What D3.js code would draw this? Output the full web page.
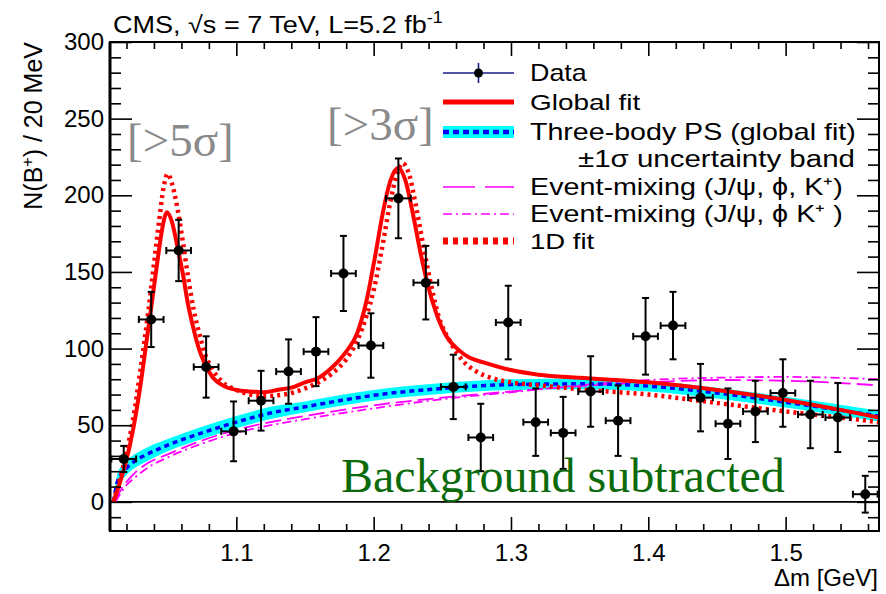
<!DOCTYPE html>
<html><head><meta charset="utf-8">
<script src="https://cdn.jsdelivr.net/npm/d3@7"></script>
<style>body{margin:0;background:#fff;} svg{display:block;}</style>
</head><body>
<svg id="c" width="886" height="594"></svg>
<script>
// ---------------- data ----------------
const binCenters = [1.018,1.038,1.058,1.078,1.098,1.118,1.138,1.158,1.178,1.198,1.218,1.238,1.258,1.278,
                    1.298,1.318,1.338,1.358,1.378,1.398,1.418,1.438,1.458,1.478,1.498,1.518,1.538,1.558];
const counts = [28,119,164,88,46,66,85,98,149,102,198,143,75,42,117,52,45,72,53,108,115,68,51,59,71,57,55,5];
const countErrors = [8.5,18,20,20,19.5,19.5,21,22.5,24.5,21,26,24,21,22,24,22,23.5,23,23,25,22,22,23,20,22,22,22.5,12];
const binHalfWidth = 0.009;

const globalFitX = [1.0105,1.015,1.019,1.025,1.030,1.036,1.040,1.043,1.046,1.0495,1.053,1.057,1.061,1.065,1.068,1.072,1.077,1.083,1.090,1.100,1.110,1.120,1.130,1.140,1.150,1.160,1.170,1.180,1.188,1.195,1.201,1.207,1.212,1.218,1.223,1.229,1.234,1.239,1.246,1.253,1.262,1.270,1.280,1.300,1.320,1.350,1.400,1.450,1.500,1.540,1.568];
const globalFitY = [0,12,24,48,75,114,140,160,178,189,183,167,149,128,116,102,90,81,76,73,72,71.5,73,74.5,78,81,88,98,110,132,160,190,209,218,210,186,163,143,122,108,99,94,91,86,83,81,78,73,66.5,60,55];

const oneDFitX = [1.0105,1.015,1.019,1.025,1.030,1.036,1.040,1.044,1.047,1.050,1.053,1.057,1.061,1.065,1.069,1.073,1.077,1.083,1.090,1.100,1.110,1.120,1.130,1.140,1.150,1.160,1.170,1.180,1.188,1.195,1.200,1.206,1.212,1.217,1.221,1.226,1.231,1.236,1.241,1.247,1.256,1.265,1.275,1.285,1.300,1.320,1.350,1.400,1.450,1.500,1.540,1.568];
const oneDFitY = [0,14,28,55,85,125,155,185,205,214,208,192,170,146,125,110,97,86,78,73,70,69,69.5,71,74,78,84,93,105,122,138,165,195,214,221,213,192,168,145,122,104,92,85,81,78,76,73.5,70,64.5,59,55,52];

const psX      = [1.0105,1.013,1.016,1.020,1.025,1.035,1.050,1.075,1.100,1.125,1.150,1.175,1.200,1.250,1.300,1.350,1.400,1.450,1.500,1.568];
const psY      = [0,12,18,22,26,31,37,45,52,58,62,66,69.5,74,76.5,77,75.5,71,65,56];
const psBandLo = [0,7,13,17.5,21.5,26.5,33,41,48,54,58.5,62.5,66,70.5,73,73.5,72,67.5,61.5,52.5];
const psBandHi = [0,17,23,27,30.5,35.5,41,49,56,62,65.5,69.5,73,77.5,80,80.5,79,74.5,68.5,59.5];

const mixAX = [1.012,1.016,1.020,1.025,1.035,1.050,1.075,1.100,1.125,1.150,1.200,1.250,1.300,1.350,1.400,1.450,1.500,1.568];
const mixAY = [0,8,13,18,25,31,40,47,52,56,63,68,72,75.5,78,79.5,79,76];
const mixBX = [1.012,1.016,1.020,1.025,1.035,1.050,1.075,1.100,1.125,1.150,1.200,1.250,1.300,1.350,1.400,1.450,1.500,1.568];
const mixBY = [0,6,11,15,22,29,38,45,50,54,61,67,71.5,76,79.5,81,81.5,80];

const xTicks = [1.1,1.2,1.3,1.4,1.5];
const yTicks = [0,50,100,150,200,250,300];

const legendLabels = ["Data","Global fit","Three-body PS (global fit)","\u00B11\u03C3  uncertainty band",
  "Event-mixing (J/\u03C8, \u03D5, K\u207A)","Event-mixing (J/\u03C8, \u03D5 K\u207A )","1D fit"];

// ---------------- drawing ----------------
const svg = d3.select("#c");
const W = 886, H = 594;
const L = 110, R = 879, T = 42, B = 531;
const sans = "'Liberation Sans', Arial, Helvetica, sans-serif";
const serif = "'Liberation Serif', 'Times New Roman', serif";

const x = d3.scaleLinear().domain([1.008,1.568]).range([L,R]);
const y = d3.scaleLinear().domain([-19,300]).range([B,T]);

svg.append("rect").attr("width",W).attr("height",H).attr("fill","#fff");

function fitWidth(sel, target, anchorX){
  const w = sel.node().getBBox().width;
  const s = target / w;
  sel.attr("transform", `translate(${anchorX},0) scale(${s},1) translate(${-anchorX},0)`);
}

svg.append("clipPath").attr("id","plotclip").append("rect")
  .attr("x",L).attr("y",T).attr("width",R-L).attr("height",B-T);
const plot = svg.append("g").attr("clip-path","url(#plotclip)");

// zero line
plot.append("line").attr("x1",L).attr("x2",R).attr("y1",y(0)).attr("y2",y(0))
  .attr("stroke","#000").attr("stroke-width",1.6);

const zip = (xs, ys) => xs.map((v,i)=>[v,ys[i]]);
const line = d3.line().x(d=>x(d[0])).y(d=>y(d[1])).curve(d3.curveMonotoneX);

// band
const bandData = psX.map((v,i)=>({x:v,lo:psBandLo[i],hi:psBandHi[i]}));
plot.append("path").datum(bandData)
  .attr("d", d3.area().x(d=>x(d.x)).y0(d=>y(d.lo)).y1(d=>y(d.hi)).curve(d3.curveMonotoneX))
  .attr("fill","#00ffff");

// event mixing
plot.append("path").datum(zip(mixAX,mixAY)).attr("d",line)
  .attr("fill","none").attr("stroke","#ff00ff").attr("stroke-width",1.8).attr("stroke-dasharray","16,6");
plot.append("path").datum(zip(mixBX,mixBY)).attr("d",line)
  .attr("fill","none").attr("stroke","#ff00ff").attr("stroke-width",1.8).attr("stroke-dasharray","9,4,2,4");

// PS
plot.append("path").datum(zip(psX,psY)).attr("d",line)
  .attr("fill","none").attr("stroke","#0000ff").attr("stroke-width",3.5).attr("stroke-dasharray","5,4");

// 1D fit
plot.append("path").datum(zip(oneDFitX,oneDFitY)).attr("d",line)
  .attr("fill","none").attr("stroke","#ff0000").attr("stroke-width",4.5).attr("stroke-dasharray","3,4");

// global fit
plot.append("path").datum(zip(globalFitX,globalFitY)).attr("d",line)
  .attr("fill","none").attr("stroke","#ff0000").attr("stroke-width",4);

// data points
const pts = binCenters.map((c,i)=>({x:c,v:counts[i],e:countErrors[i]}));
const gd = svg.append("g").attr("stroke","#000").attr("stroke-width",2);
pts.forEach(p=>{
  const cx = x(p.x), cy = y(p.v);
  const x0 = x(p.x-binHalfWidth), x1 = x(p.x+binHalfWidth);
  const y0 = y(p.v+p.e), y1 = y(p.v-p.e);
  const g = gd.append("g");
  g.append("line").attr("x1",cx).attr("x2",cx).attr("y1",y0).attr("y2",y1);
  g.append("line").attr("x1",cx-3.5).attr("x2",cx+3.5).attr("y1",y0).attr("y2",y0);
  g.append("line").attr("x1",cx-3.5).attr("x2",cx+3.5).attr("y1",y1).attr("y2",y1);
  g.append("line").attr("x1",x0).attr("x2",x1).attr("y1",cy).attr("y2",cy);
  g.append("line").attr("x1",x0).attr("x2",x0).attr("y1",cy-3.5).attr("y2",cy+3.5);
  g.append("line").attr("x1",x1).attr("x2",x1).attr("y1",cy-3.5).attr("y2",cy+3.5);
  g.append("circle").attr("cx",cx).attr("cy",cy).attr("r",5).attr("fill","#000").attr("stroke","none");
});

// axes
const xMinor = d3.range(1.02,1.568,0.02).filter(v=>!xTicks.some(t=>Math.abs(t-v)<1e-6));
const yMinor = d3.range(-10,300,10).filter(v=>v%50!==0);
function styleAxis(g){ g.select(".domain").remove(); g.selectAll("line").attr("stroke","#000").attr("stroke-width",1.6); }
svg.append("g").attr("transform",`translate(0,${B})`)
  .call(d3.axisBottom(x).tickValues(xTicks).tickSize(-14).tickPadding(13).tickFormat(d3.format(".1f"))).call(styleAxis);
svg.append("g").attr("transform",`translate(0,${B})`)
  .call(d3.axisBottom(x).tickValues(xMinor).tickSize(-7).tickFormat("")).call(styleAxis);
svg.append("g").attr("transform",`translate(0,${T})`)
  .call(d3.axisTop(x).tickValues(xTicks).tickSize(-14).tickFormat("")).call(styleAxis);
svg.append("g").attr("transform",`translate(0,${T})`)
  .call(d3.axisTop(x).tickValues(xMinor).tickSize(-7).tickFormat("")).call(styleAxis);
svg.append("g").attr("transform",`translate(${L},0)`)
  .call(d3.axisLeft(y).tickValues(yTicks).tickSize(-22).tickPadding(6).tickFormat(d3.format("d"))).call(styleAxis);
svg.append("g").attr("transform",`translate(${L},0)`)
  .call(d3.axisLeft(y).tickValues(yMinor).tickSize(-11).tickFormat("")).call(styleAxis);
svg.append("g").attr("transform",`translate(${R},0)`)
  .call(d3.axisRight(y).tickValues(yTicks).tickSize(-22).tickFormat("")).call(styleAxis);
svg.append("g").attr("transform",`translate(${R},0)`)
  .call(d3.axisRight(y).tickValues(yMinor).tickSize(-11).tickFormat("")).call(styleAxis);

svg.selectAll(".tick text").attr("font-family",sans).attr("font-size",24).attr("fill","#000");

// frame
svg.append("rect").attr("x",L).attr("y",T).attr("width",R-L).attr("height",B-T)
  .attr("fill","none").attr("stroke","#000").attr("stroke-width",2);
svg.append("line").attr("x1",L).attr("x2",L).attr("y1",T).attr("y2",B).attr("stroke","#000").attr("stroke-width",3);

// title
const title = svg.append("text").attr("x",113).attr("y",33).attr("font-family",sans).attr("font-size",24).attr("fill","#000");
title.append("tspan").text("CMS, \u221As = 7 TeV, L=5.2 fb");
title.append("tspan").attr("dy",-10).attr("font-size",16).text("-1");
fitWidth(title, 330, 113);

// axis titles
const xt = svg.append("text").attr("x",878).attr("y",586).attr("text-anchor","end")
  .attr("font-family",sans).attr("font-size",24).text("\u0394m [GeV]");
const yt = svg.append("text").attr("transform","translate(42,42) rotate(-90)").attr("text-anchor","end")
  .attr("font-family",sans).attr("font-size",25);
yt.append("tspan").text("N(B");
yt.append("tspan").attr("dy",-9).attr("font-size",16).text("+");
yt.append("tspan").attr("dy",9).text(") / 20 MeV");

// annotations
svg.append("text").attr("x",127).attr("y",156).attr("font-family",serif).attr("font-size",47)
  .attr("fill","#8a8a8a").text("[>5\u03C3]");
svg.append("text").attr("x",327).attr("y",140).attr("font-family",serif).attr("font-size",47)
  .attr("fill","#8a8a8a").text("[>3\u03C3]");
svg.append("text").attr("x",341).attr("y",492).attr("font-family",serif).attr("font-size",48)
  .attr("fill","#0b6b0b").text("Background subtracted");

// legend
const lx0 = 443, lx1 = 514, ltx = 530;
const legY = [73,102,132,159,187,214,241];
const legW = [57,111,326,277,313,313,65];
const lg = svg.append("g");
// data
lg.append("line").attr("x1",lx0).attr("x2",lx1).attr("y1",legY[0]).attr("y2",legY[0]).attr("stroke","#1a1a8c").attr("stroke-width",1.6);
lg.append("line").attr("x1",(lx0+lx1)/2).attr("x2",(lx0+lx1)/2).attr("y1",legY[0]-10).attr("y2",legY[0]+10).attr("stroke","#1a1a8c").attr("stroke-width",1.6);
lg.append("circle").attr("cx",(lx0+lx1)/2).attr("cy",legY[0]).attr("r",4.5).attr("fill","#000");
// global
lg.append("line").attr("x1",lx0).attr("x2",lx1).attr("y1",legY[1]).attr("y2",legY[1]).attr("stroke","#ff0000").attr("stroke-width",5);
// PS
lg.append("rect").attr("x",lx0).attr("y",legY[2]-6).attr("width",lx1-lx0).attr("height",12).attr("fill","#00ffff");
lg.append("line").attr("x1",lx0).attr("x2",lx1).attr("y1",legY[2]).attr("y2",legY[2]).attr("stroke","#0000ff").attr("stroke-width",4.5).attr("stroke-dasharray","6,4");
// mixing
lg.append("line").attr("x1",lx0).attr("x2",lx1).attr("y1",legY[4]).attr("y2",legY[4]).attr("stroke","#ff00ff").attr("stroke-width",1.6).attr("stroke-dasharray","32,10");
lg.append("line").attr("x1",lx0).attr("x2",lx1).attr("y1",legY[5]).attr("y2",legY[5]).attr("stroke","#ff00ff").attr("stroke-width",1.6).attr("stroke-dasharray","9,4,2,4");
// 1D
lg.append("line").attr("x1",lx0).attr("x2",lx1).attr("y1",legY[6]).attr("y2",legY[6]).attr("stroke","#ff0000").attr("stroke-width",7).attr("stroke-dasharray","5,5");

legendLabels.forEach((t,i)=>{
  const tx = i===3 ? 578 : ltx;
  const el = lg.append("text").attr("x",tx).attr("y",legY[i]+8).attr("font-family",sans).attr("font-size",23).attr("fill","#000").text(t);
  fitWidth(el, legW[i], tx);
});
</script>
</body></html>
